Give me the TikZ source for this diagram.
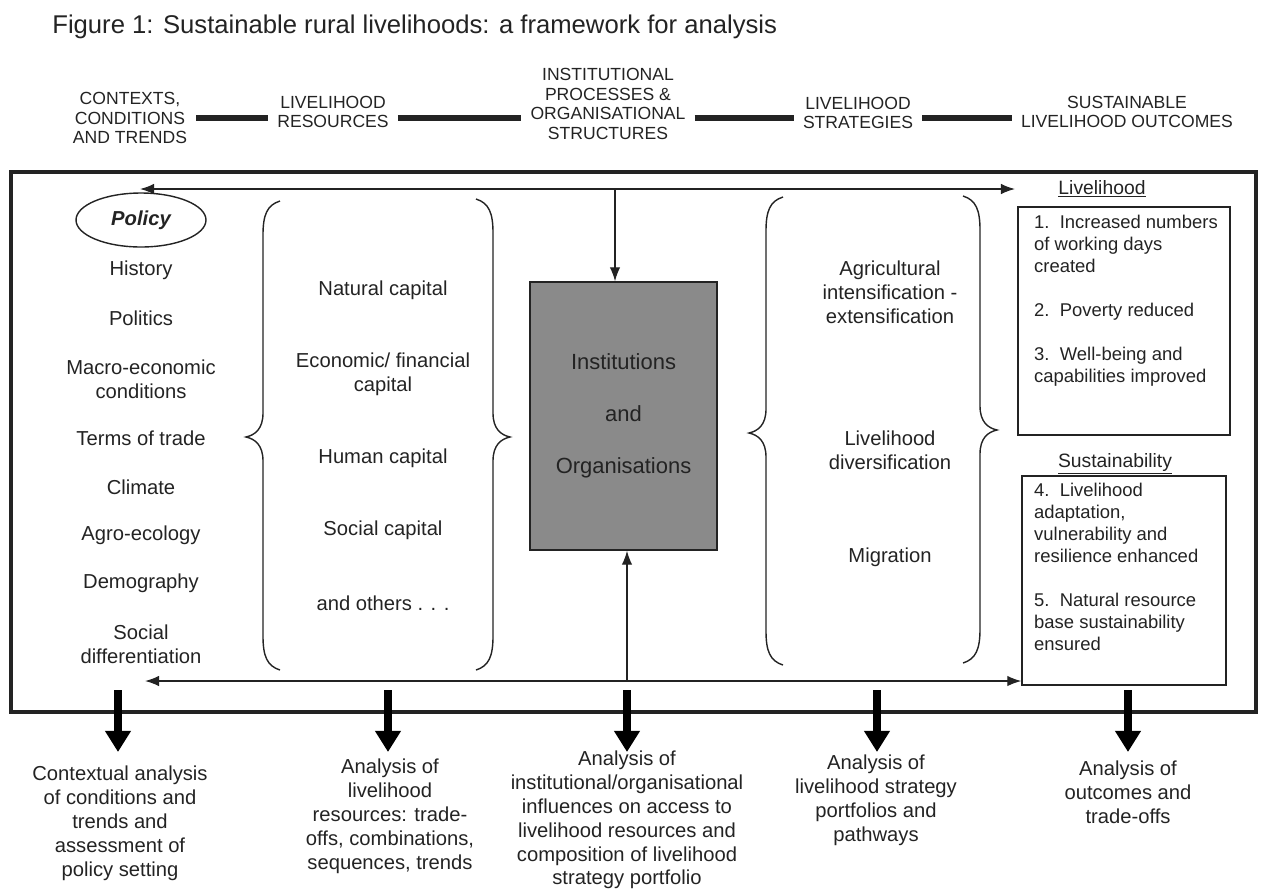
\documentclass[tikz,border=0pt]{standalone}
\usepackage{fontspec}
\setmainfont{Liberation Sans}
\usepackage{tikz}
\usetikzlibrary{arrows.meta, shapes.geometric}
\definecolor{inkColor}{RGB}{35,35,35}
\definecolor{boxFill}{RGB}{138,138,138}
\tikzstyle{framework} = [x = .02cm, y = -.02cm, every node/.style={text=inkColor}]
\tikzstyle{titleText} = [font=\fontsize{14.6}{17}\selectfont, anchor=west, inner sep=0pt]
\tikzstyle{headerText} = [font=\fontsize{10}{11.2}\selectfont, align=center, inner sep=5pt]
\tikzstyle{headerBar} = [color=inkColor, line width=3.4pt]
\tikzstyle{frameLine} = [color=inkColor, line width=1.8pt]
\tikzstyle{itemText} = [font=\fontsize{11.5}{13.6}\selectfont, align=center]
\tikzstyle{labelText} = [font=\fontsize{11}{13}\selectfont]
\tikzstyle{outcomeText} = [font=\fontsize{10.5}{12.5}\selectfont, align=left, anchor=west]
\tikzstyle{outcomeBox} = [draw=inkColor, thick, inner sep=0pt]
\tikzstyle{instBox} = [draw=inkColor, thick, fill=boxFill, align=center, minimum width=3.74cm, minimum height=5.36cm, font=\fontsize{12.5}{29.5}\selectfont]
\tikzstyle{policyStyle} = [draw=inkColor, thick, ellipse, minimum width=2.6cm, minimum height=1.08cm, inner sep=0pt, font=\fontsize{11.5}{13.6}\selectfont\bfseries\itshape]
\tikzstyle{thinArrow} = [color=inkColor, thick, -{Latex[length=8pt, width=6pt]}]
\tikzstyle{twoWayArrow} = [color=inkColor, thick, {Latex[length=8pt, width=6pt]}-{Latex[length=8pt, width=6pt]}]
\tikzstyle{analysisArrow} = [color=black, line width=5pt, -{Triangle[length=12pt, width=14pt]}]
\tikzstyle{braceLine} = [color=inkColor, thick]
\newcommand{\leftBrace}[4]{
  \draw [braceLine] (#1 + 17, #2) .. controls (#1 + 4, #2 + 4) and (#1, #2 + 14) .. (#1, #2 + 34)
    -- (#1, #3 - 24) .. controls (#1, #3 - 8) and (#1 - 8, #3 - 2) .. (#1 - 17, #3)
    .. controls (#1 - 8, #3 + 2) and (#1, #3 + 8) .. (#1, #3 + 24)
    -- (#1, #4 - 34) .. controls (#1, #4 - 14) and (#1 + 4, #4 - 4) .. (#1 + 17, #4);
}
\newcommand{\rightBrace}[4]{
  \draw [braceLine] (#1 - 17, #2) .. controls (#1 - 4, #2 + 4) and (#1, #2 + 14) .. (#1, #2 + 34)
    -- (#1, #3 - 24) .. controls (#1, #3 - 8) and (#1 + 8, #3 - 2) .. (#1 + 17, #3)
    .. controls (#1 + 8, #3 + 2) and (#1, #3 + 8) .. (#1, #3 + 24)
    -- (#1, #4 - 34) .. controls (#1, #4 - 14) and (#1 - 4, #4 - 4) .. (#1 - 17, #4);
}

\begin{document}
\begin{tikzpicture}[framework]
  \useasboundingbox (0, 0) rectangle (1261, 894);

  \node[titleText] (title) at (52, 27) {Figure 1: Sustainable rural livelihoods: a framework for analysis};

  % header row
  \node[headerText] (contexts) at (130, 118) {CONTEXTS,\\CONDITIONS\\AND TRENDS};
  \node[headerText] (resources) at (333, 112) {LIVELIHOOD\\RESOURCES};
  \node[headerText] (processes) at (608, 104) {INSTITUTIONAL\\PROCESSES \&\\ORGANISATIONAL\\STRUCTURES};
  \node[headerText] (strategies) at (858, 113) {LIVELIHOOD\\STRATEGIES};
  \node[headerText] (outcomes) at (1127, 112) {SUSTAINABLE\\LIVELIHOOD OUTCOMES};
  \draw[headerBar] (contexts.east) -- (contexts.east -| resources.west);
  \draw[headerBar] (resources.east |- contexts.east) -- (contexts.east -| processes.west);
  \draw[headerBar] (processes.east |- contexts.east) -- (contexts.east -| strategies.west);
  \draw[headerBar] (strategies.east |- contexts.east) -- (contexts.east -| outcomes.west);

  \draw[frameLine] (11, 172) rectangle (1256, 712);

  % contexts
  \node[policyStyle] (policy) at (141, 220) {Policy};
  \foreach \txt/\ypos [count=\i] in {History/270, Politics/318, {Macro-economic\\conditions}/379, Terms of trade/438, Climate/487, Agro-ecology/535, Demography/583, {Social\\differentiation}/644}
    \node[itemText] (context\i) at (141, \ypos) {\txt};

  % resources
  \leftBrace{263}{201}{437}{670}
  \rightBrace{493}{199}{437}{670}
  \foreach \txt/\ypos [count=\i] in {Natural capital/290, {Economic/ financial\\capital}/374, Human capital/458, Social capital/530, and others . . ./603}
    \node[itemText] (capital\i) at (383, \ypos) {\txt};

  % institutions
  \node[instBox] (inst) at (623.5, 416) {Institutions\\and\\Organisations};

  % strategies
  \leftBrace{766}{197}{433}{665}
  \rightBrace{980}{196}{430}{663}
  \foreach \txt/\ypos [count=\i] in {{Agricultural\\intensification -\\extensification}/292, {Livelihood\\diversification}/450, Migration/557}
    \node[itemText] (strategy\i) at (890, \ypos) {\txt};

  % outcomes
  \node[labelText] (livLabel) at (1102, 189) {\underline{Livelihood}};
  \node[outcomeBox, minimum width=4.24cm, minimum height=4.56cm] (livBox) at (1124, 321) {};
  \node[outcomeText] (livText) at (1028, 301) {1.\ \ Increased numbers\\of working days\\created\\[12.5pt]2.\ \ Poverty reduced\\[12.5pt]3.\ \ Well-being and\\capabilities improved};
  \node[labelText] (susLabel) at (1115, 464) {\underline{Sustainability}};
  \node[outcomeBox, minimum width=4.08cm, minimum height=4.18cm] (susBox) at (1124, 580.5) {};
  \node[outcomeText] (susText) at (1028, 567) {4.\ \ Livelihood\\adaptation,\\vulnerability and\\resilience enhanced\\[12.5pt]5.\ \ Natural resource\\base sustainability\\ensured};

  % feedback lines
  \coordinate (topLeft) at (140, 189);
  \coordinate (topRight) at (1015, 189);
  \draw[twoWayArrow] (topLeft) -- (topRight);
  \coordinate (instFeed) at (615, 189);
  \draw[thinArrow] (instFeed) -- (instFeed |- inst.north);
  \coordinate (bottomLeft) at (145, 681);
  \draw[twoWayArrow] (bottomLeft) -- (bottomLeft -| susBox.west);
  \coordinate (instRoot) at (627, 681);
  \draw[thinArrow] (instRoot) -- (instRoot |- inst.south);

  % analysis
  \foreach \xpos [count=\i] in {118, 388, 627, 877, 1128} {
    \coordinate (arrowTop\i) at (\xpos, 690);
    \coordinate (arrowTip\i) at (\xpos, 752);
    \draw[analysisArrow] (arrowTop\i) -- (arrowTip\i);
  }
  \node[itemText] (contextAnalysis) at (120, 823.5) {Contextual analysis\\of conditions and\\trends and\\assessment of\\policy setting};
  \node[itemText] (resourceAnalysis) at (390, 816) {Analysis of\\livelihood\\resources: trade-\\offs, combinations,\\sequences, trends};
  \node[itemText] (instAnalysis) at (627, 820) {Analysis of\\institutional/organisational\\influences on access to\\livelihood resources and\\composition of livelihood\\strategy portfolio};
  \node[itemText] (strategyAnalysis) at (876, 800) {Analysis of\\livelihood strategy\\portfolios and\\pathways};
  \node[itemText] (outcomeAnalysis) at (1128, 792) {Analysis of\\outcomes and\\trade-offs};
\end{tikzpicture}
\end{document}
